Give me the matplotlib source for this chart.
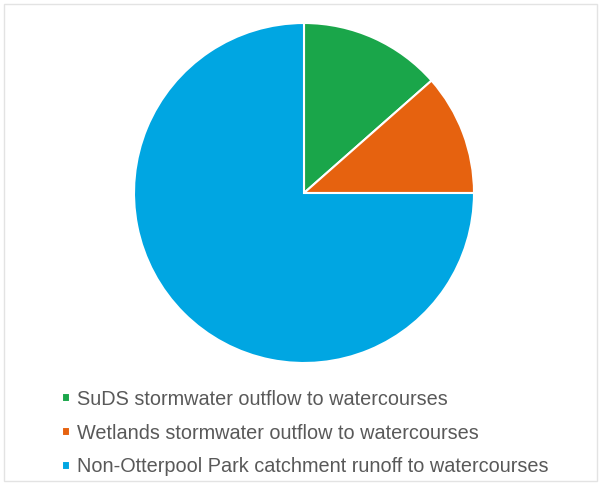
import matplotlib.pyplot as plt
from matplotlib.patches import Rectangle

labels = [
    "SuDS stormwater outflow to watercourses",
    "Wetlands stormwater outflow to watercourses",
    "Non-Otterpool Park catchment runoff to watercourses",
]
shares = [13.5, 11.5, 75.0]
colors = ["#1aa64a", "#e6620f", "#00a6e2"]

plt.rcParams["font.family"] = ["Liberation Sans", "DejaVu Sans"]

W, H = 601, 483
fig = plt.figure(figsize=(W / 100, H / 100), dpi=100)
fig.patch.set_facecolor("white")

# faint chart border
fig.add_artist(Rectangle((4 / W, 2 / H), (W - 8) / W, (H - 6) / H,
                         transform=fig.transFigure, fill=False,
                         edgecolor="#e3e3e3", linewidth=1.0))

# pie centre ~ (304, 193) px from top, radius ~170 px
cx, cy, r = 304, 193, 170
ax = fig.add_axes([(cx - r) / W, (H - cy - r) / H, 2 * r / W, 2 * r / H])
wedges, _ = ax.pie(shares, colors=colors, startangle=90, counterclock=False,
                   wedgeprops=dict(edgecolor="white", linewidth=1.5))
ax.set_xlim(-1, 1)
ax.set_ylim(-1, 1)
ax.set_aspect("equal")

fig.legend(wedges, labels, loc="upper left",
           bbox_to_anchor=(62 / W, 1 - 390 / H), frameon=False,
           fontsize=14.3, labelcolor="#595959",
           handlelength=0.4, handleheight=0.32, handletextpad=0.38,
           labelspacing=0.74, borderpad=0, borderaxespad=0)

fig.savefig("out.png", dpi=100)
